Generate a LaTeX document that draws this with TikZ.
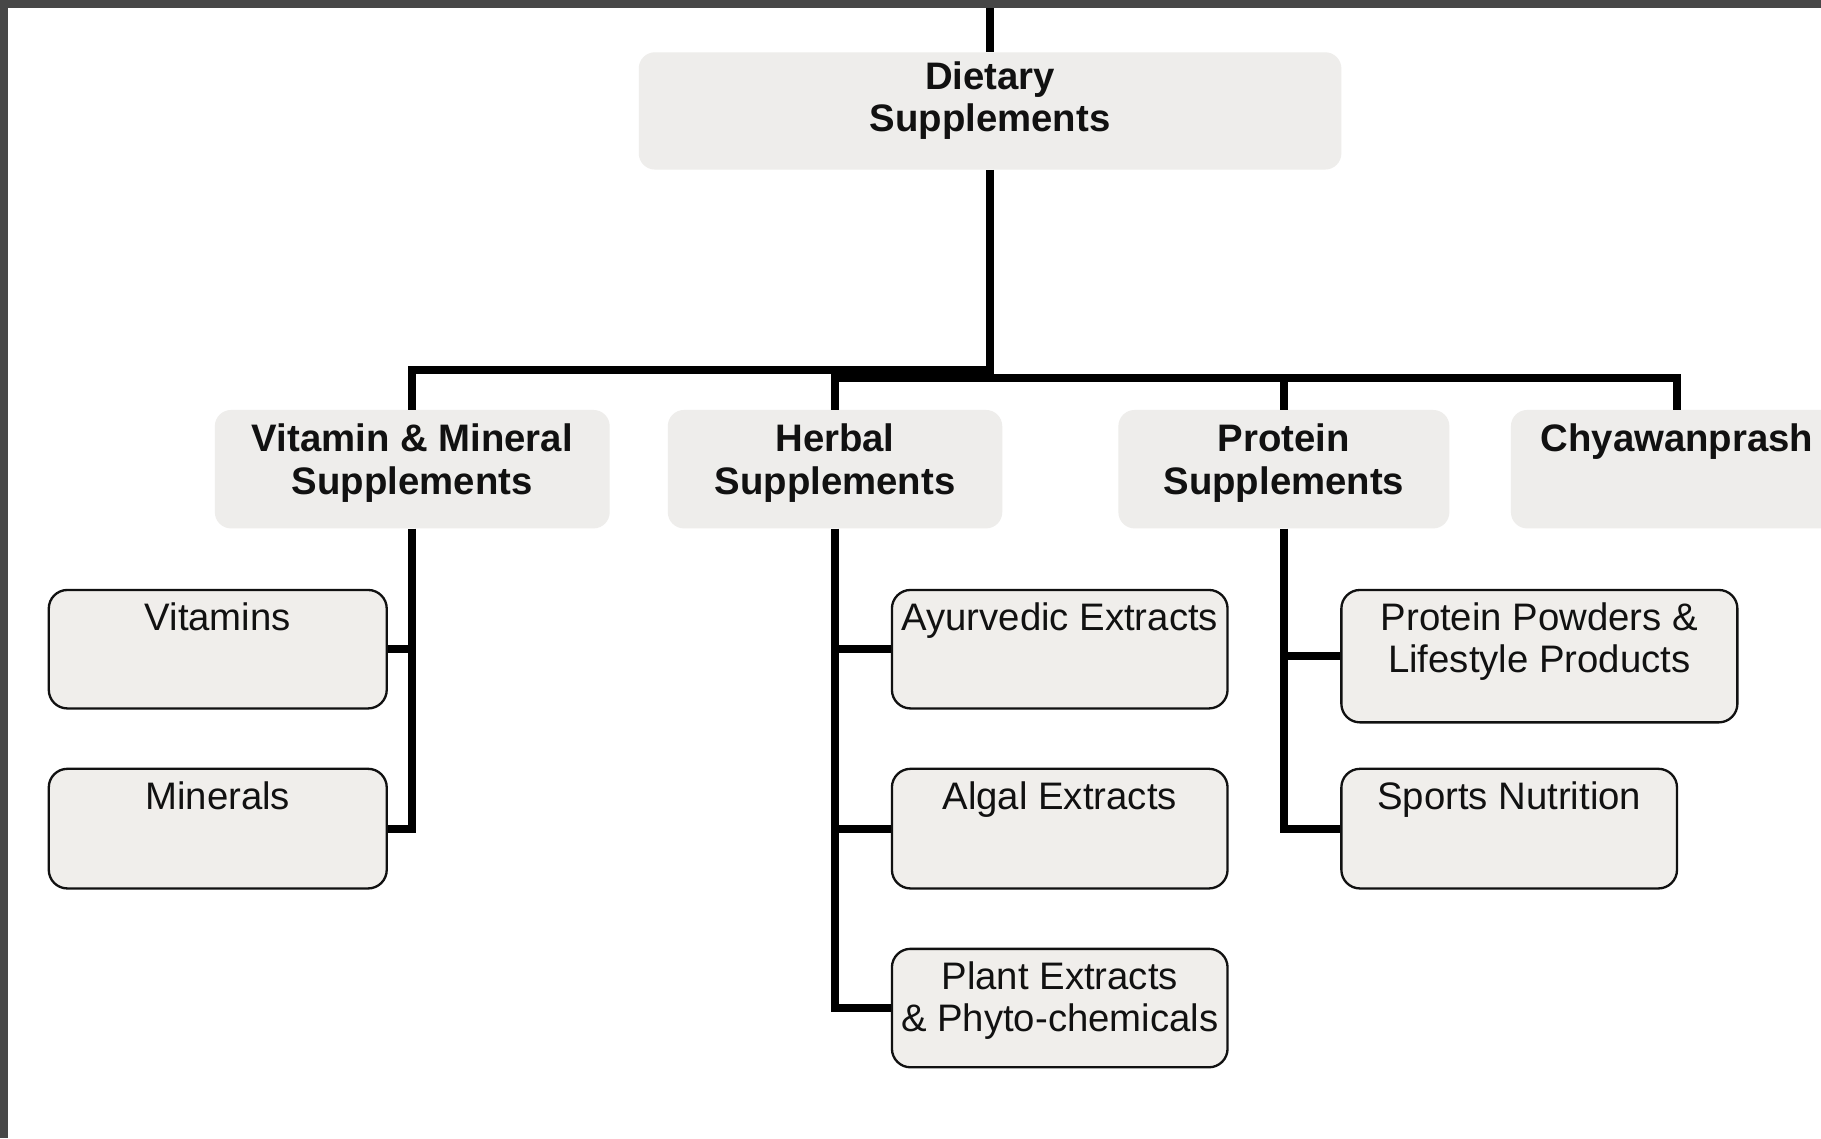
\documentclass[tikz,border=0pt]{standalone}
\usepackage{fontspec}
\setmainfont{Liberation Sans}

\definecolor{headgrey}{HTML}{EEEDEB}
\definecolor{leafgrey}{HTML}{F0EEEB}
\definecolor{framegrey}{HTML}{474747}
\definecolor{ink}{HTML}{111111}

\tikzset{
  headbox/.style={fill=headgrey, draw=none, rounded corners=14pt, inner sep=0pt},
  leafbox/.style={fill=leafgrey, draw=ink, line width=2pt, rounded corners=16pt, inner sep=0pt},
  headtext/.style={font=\fontsize{33}{36.5}\selectfont\bfseries, text=ink,
                   align=center, anchor=north, inner sep=0pt},
  leaftext/.style={font=\fontsize{33}{36}\selectfont, text=ink,
                   align=center, anchor=north, inner sep=0pt},
  link/.style={draw=black, line width=7pt},
}

\begin{document}
\begin{tikzpicture}[x=1pt, y=-1pt]
  \useasboundingbox (0,0) rectangle (1568,980);
  \clip (0,0) rectangle (1568,980);
  \fill[white] (0,0) rectangle (1568,980);

  % root
  \node[headbox, minimum width=605pt, minimum height=101pt] (dietary) at (852.5,95.5) {};
  \node[headtext] (dietary-t) at ([yshift=-8pt]dietary.north) {Dietary\\Supplements};

  % second level
  \node[headbox, minimum width=340pt, minimum height=102pt] (vitmin) at (355,404) {};
  \node[headtext] (vitmin-t) at ([yshift=-12pt]vitmin.north) {Vitamin \& Mineral\\Supplements};
  \node[headbox, minimum width=288pt, minimum height=102pt] (herbal) at (719,404) {};
  \node[headtext] (herbal-t) at ([yshift=-12pt]herbal.north) {Herbal\\Supplements};
  \node[headbox, minimum width=285pt, minimum height=102pt] (protein) at (1105.5,404) {};
  \node[headtext] (protein-t) at ([yshift=-12pt]protein.north) {Protein\\Supplements};
  \node[headbox, minimum width=286pt, minimum height=102pt] (chyawan) at (1444,404) {};
  \node[headtext] (chyawan-t) at ([yshift=-12pt]chyawan.north) {Chyawanprash};

  % third level
  \node[leafbox, minimum width=291pt, minimum height=102pt] (vitamins) at (187.5,559) {};
  \node[leaftext] (vitamins-t) at ([yshift=-12pt]vitamins.north) {Vitamins};
  \node[leafbox, minimum width=291pt, minimum height=103pt] (minerals) at (187.5,713.5) {};
  \node[leaftext] (minerals-t) at ([yshift=-12pt]minerals.north) {Minerals};

  \node[leafbox, minimum width=289pt, minimum height=102pt] (ayur) at (912.5,559) {};
  \node[leaftext] (ayur-t) at ([yshift=-12pt]ayur.north) {Ayurvedic Extracts};
  \node[leafbox, minimum width=289pt, minimum height=103pt] (algal) at (912.5,713.5) {};
  \node[leaftext] (algal-t) at ([yshift=-12pt]algal.north) {Algal Extracts};
  \node[leafbox, minimum width=289pt, minimum height=102pt] (plant) at (912.5,868) {};
  \node[leaftext] (plant-t) at ([yshift=-12pt]plant.north) {Plant Extracts\\\& Phyto-chemicals};

  \node[leafbox, minimum width=341pt, minimum height=114pt] (powders) at (1325.5,565) {};
  \node[leaftext] (powders-t) at ([yshift=-12pt]powders.north) {Protein Powders \&\\Lifestyle Products};
  \node[leafbox, minimum width=289pt, minimum height=103pt] (sports) at (1299.5,713.5) {};
  \node[leaftext] (sports-t) at ([yshift=-12pt]sports.north) {Sports Nutrition};

  % trunk and the two bars under the root
  \coordinate (feed) at (852.5,0);
  \coordinate (lbar) at (852.5,318.5);
  \coordinate (rbar) at (852.5,325.5);
  \draw[link] (feed) -- (dietary.north);
  \draw[link] (dietary.south) -- (rbar);
  \draw[link] (vitmin.north) |- (lbar);
  \draw[link] (herbal.north) |- (rbar) -| (chyawan.north);
  \draw[link] (protein.north) -- (protein.north |- rbar);

  % vitamin & mineral branch
  \draw[link] (vitmin.south) |- (minerals.east);
  \draw[link] (vitamins.east) -- (vitamins.east -| vitmin.south);

  % herbal branch
  \draw[link] (herbal.south) |- (plant.west);
  \draw[link] (ayur.west) -- (ayur.west -| herbal.south);
  \draw[link] (algal.west) -- (algal.west -| herbal.south);

  % protein branch
  \draw[link] (protein.south) |- (sports.west);
  \draw[link] (powders.west) -- (powders.west -| protein.south);

  % dark frame along the top and left edges
  \fill[framegrey] (0,0) rectangle (1568,7);
  \fill[framegrey] (0,0) rectangle (7,980);
\end{tikzpicture}
\end{document}
